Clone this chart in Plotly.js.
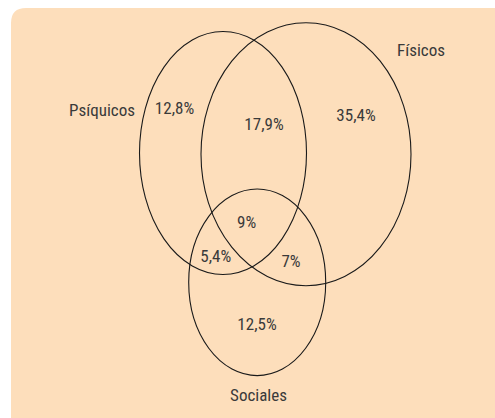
<!DOCTYPE html>
<html>
<head>
<meta charset="utf-8">
<script src="https://cdn.plot.ly/plotly-3.0.1.min.js"></script>
<style>html,body{margin:0;padding:0;background:#fff;}#chart{width:495px;height:418px;}</style>
</head>
<body>
<div id="chart"></div>
<script>
// Data
var setNames = ["Psíquicos", "Físicos", "Sociales"];
var regionNames = ["Solo Psíquicos", "Psíquicos y Físicos", "Solo Físicos", "Los tres", "Psíquicos y Sociales", "Físicos y Sociales", "Solo Sociales"];
var regionValues = ["12,8%", "17,9%", "35,4%", "9%", "5,4%", "7%", "12,5%"];

// Layout geometry (pixel space)
var ellipses = [
  {cx: 223, cy: 153, rx: 83.5, ry: 121.5},
  {cx: 306, cy: 154.2, rx: 105, ry: 131.5},
  {cx: 257.2, cy: 282.3, rx: 68.5, ry: 93.3}
];
var setLabelPos = [[102, 112], [421, 51.5], [258.5, 396.5]];
var regionLabelPos = [[174.5, 109.7], [264, 125.3], [356, 116.5], [246.7, 223.7], [215.7, 258], [291, 262.7], [257, 326]];

var fontFam = "'Liberation Sans Narrow', 'Arial Narrow', 'Roboto Condensed', Roboto, sans-serif";
var textColor = "#3a3a3a";

var shapes = [{
  type: "path", xref: "x", yref: "y",
  path: "M 11 23 Q 11 8 26 8 L 520 8 L 520 440 L 11 440 Z",
  fillcolor: "rgb(253,222,187)", line: {width: 0}, layer: "below"
}];
ellipses.forEach(function(e){
  shapes.push({type: "circle", xref: "x", yref: "y",
    x0: e.cx - e.rx, x1: e.cx + e.rx, y0: e.cy - e.ry, y1: e.cy + e.ry,
    line: {color: "#1a1a1a", width: 1.1}, fillcolor: "rgba(0,0,0,0)"});
});

var traces = [
  {type: "scatter", mode: "text", x: setLabelPos.map(function(p){return p[0];}), y: setLabelPos.map(function(p){return p[1];}),
   text: setNames, textfont: {family: fontFam, size: 17, color: textColor}, hoverinfo: "none", showlegend: false, cliponaxis: false},
  {type: "scatter", mode: "text", x: regionLabelPos.map(function(p){return p[0];}), y: regionLabelPos.map(function(p){return p[1];}),
   text: regionValues, customdata: regionNames, textfont: {family: fontFam, size: 17, color: textColor}, hoverinfo: "none", showlegend: false, cliponaxis: false}
];

var layout = {
  width: 495, height: 418,
  margin: {l: 0, r: 0, t: 0, b: 0},
  paper_bgcolor: "#ffffff", plot_bgcolor: "rgba(0,0,0,0)",
  xaxis: {range: [0, 495], visible: false, fixedrange: true},
  yaxis: {range: [418, 0], visible: false, fixedrange: true},
  shapes: shapes,
  showlegend: false
};

Plotly.newPlot("chart", traces, layout, {displayModeBar: false, staticPlot: true});
</script>
</body>
</html>
